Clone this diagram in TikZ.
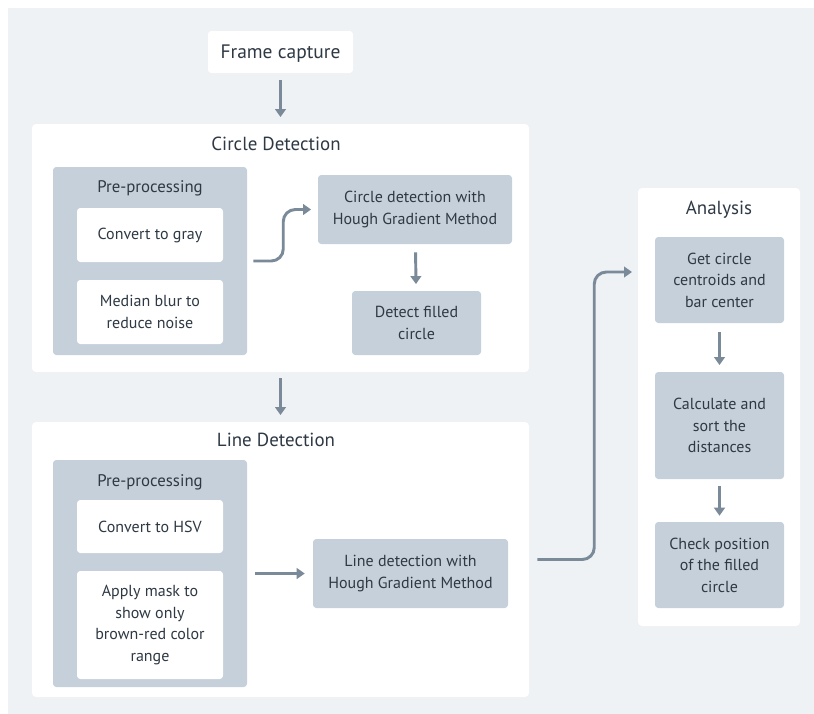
\documentclass[tikz,border=0pt]{standalone}
\usepackage{fontspec}
\setmainfont{PT Sans}
\usetikzlibrary{arrows.meta}
\definecolor{bgc}{HTML}{EEF2F5}
\definecolor{grayc}{HTML}{C5D0DA}
\definecolor{arrc}{HTML}{7A8A99}
\definecolor{txtc}{HTML}{2E3944}
\begin{document}
\begin{tikzpicture}[x=0.75pt,y=-0.75pt,
  sz/.style 2 args={minimum width=#1*0.75pt, minimum height=#2*0.75pt},
  panel/.style={fill=white, rounded corners=3pt, inner sep=0pt, draw=none},
  boxtext/.style={text=txtc, align=center, font=\fontsize{12pt}{16.2pt}\selectfont},
  graybox/.style={fill=grayc, rounded corners=2.5pt, inner sep=0pt, boxtext},
  whitebox/.style={fill=white, rounded corners=2.5pt, inner sep=0pt, boxtext},
  paneltitle/.style={text=txtc, font=\fontsize{14.2pt}{16pt}\selectfont, inner sep=0pt},
  subtitle/.style={text=txtc, font=\fontsize{12.6pt}{15pt}\selectfont, inner sep=0pt},
  arr/.style={draw=arrc, line width=2.2pt, -{Triangle[length=6pt,width=8pt]}, rounded corners=9pt}]
% canvas
\fill[white] (0,0) rectangle (814,714);
\fill[bgc] (8,8) rectangle (814,714);
% frame capture
\node[whitebox, sz={145}{42}, font=\fontsize{14.6pt}{16pt}\selectfont, text height=10pt, text depth=0.5pt] (frame) at (280.5,52) {Frame capture};
% circle detection panel
\node[panel, sz={497}{248}] (cpanel) at (280.5,248) {};
\node[paneltitle] (ctitle) at (276,144) {Circle Detection};
\node[graybox, sz={194}{188}] (pre1) at (150,261) {};
\node[subtitle] (pre1t) at (150,188) {Pre-processing};
\node[whitebox, sz={146}{54}] (gray) at (150,235) {Convert to gray};
\node[whitebox, sz={146}{64}] (blur) at (150,312) {Median blur to\\reduce noise};
\node[graybox, sz={194}{69}] (circdet) at (415,209.5) {Circle detection with\\Hough Gradient Method};
\node[graybox, sz={129}{64}] (filled) at (416.5,323) {Detect filled\\circle};
% line detection panel
\node[panel, sz={497}{275}] (lpanel) at (280.5,559.5) {};
\node[paneltitle] (ltitle) at (276,440) {Line Detection};
\node[graybox, sz={194}{227}] (pre2) at (150,573.5) {};
\node[subtitle] (pre2t) at (150,482) {Pre-processing};
\node[whitebox, sz={146}{53}] (hsv) at (150,526.5) {Convert to HSV};
\node[whitebox, sz={146}{108}] (mask) at (150,625) {Apply mask to\\show only\\brown-red color\\range};
\node[graybox, sz={195}{69}] (linedet) at (410.5,573.5) {Line detection with\\Hough Gradient Method};
% analysis panel
\node[panel, sz={162}{438}] (apanel) at (719,407) {};
\node[paneltitle] (atitle) at (719,210) {Analysis};
\node[graybox, sz={129}{86}] (cent) at (719.5,280) {Get circle\\centroids and\\bar center};
\node[graybox, sz={129}{107}] (calc) at (719.5,425.5) {Calculate and\\sort the\\distances};
\node[graybox, sz={129}{86}] (check) at (719.5,565) {Check position\\of the filled\\circle};
\coordinate (ae) at (632,272);
% arrows
\draw[arr, shorten <=5pt, shorten >=5pt] (frame) -- (cpanel);
\draw[arr, shorten <=4.5pt, shorten >=5pt] (cpanel) -- (lpanel);
\draw[arr, shorten <=6pt, shorten >=5pt] (circdet) -- (filled);
\draw[arr] ([xshift=4.5pt]pre1.east) -- ++(30,0) |- ([xshift=-5pt]circdet.west);
\draw[arr] ([xshift=6pt]pre2.east) -- ([xshift=-6pt]linedet.west);
\draw[arr] ([xshift=6pt]lpanel.east) -- ++(57,0) |- (ae);
\draw[arr, shorten <=6.5pt, shorten >=5pt] (cent) -- (calc);
\draw[arr, shorten <=5pt, shorten >=4.5pt] (calc) -- (check);
\end{tikzpicture}
\end{document}
